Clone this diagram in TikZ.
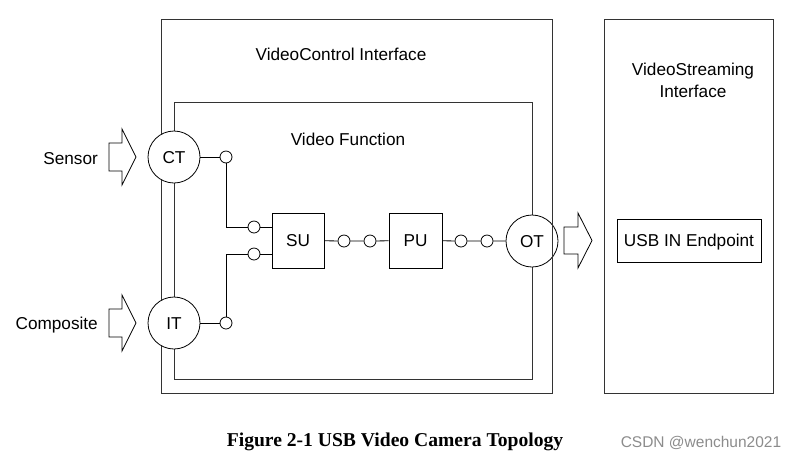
\documentclass[tikz,border=0pt]{standalone}
\usepackage{fontspec}
\setmainfont{Liberation Sans}
\newfontfamily\capfont{Liberation Serif}
\begin{document}
\begin{tikzpicture}[x=1pt,y=-1pt,
  every node/.style={font=\fontsize{17.2}{22}\selectfont, text height=12.3pt, text depth=0pt},
  box/.style={draw=black!80, line width=1pt},
  term/.style={circle, draw, fill=white, minimum size=52pt, inner sep=0pt, line width=0.8pt},
  pin/.style={circle, draw, fill=white, minimum size=12pt, inner sep=0pt, line width=0.8pt, text height=0pt, text depth=0pt},
  unit/.style={draw, fill=white, inner sep=0pt, line width=0.8pt},
  wire/.style={line width=0.8pt},
  blk/.style={draw, line width=0.8pt, fill=white, line join=miter}]
\useasboundingbox (0,0) rectangle (797,459);
\fill[white] (0,0) rectangle (797,459);

% interface boxes
\draw[box] (161,19) rectangle (552,393);
\draw[box] (174,102) rectangle (532,379);
\draw[box] (604,19) rectangle (773,393);

% labels
\node (vci) at (341,54) {VideoControl Interface};
\node (vf) at (348,139) {Video Function};
\node[align=center, text height=, text depth=] (vsi) at (693,80) {VideoStreaming\\Interface};

% terminals
\node[term] (ct) at (174,157) {CT};
\node[term] (it) at (174,323) {IT};
\node[term] (ot) at (532,241) {OT};
\draw[box] (552,19) -- (552,393);

% units
\node[unit, minimum width=52pt, minimum height=55pt] (su) at (298,240.5) {SU};
\node[unit, minimum width=53pt, minimum height=55pt] (pu) at (415.5,240.5) {PU};

% pins
\node[pin] (p1) at (226,157) {};
\node[pin] (p2) at (254,227) {};
\node[pin] (p3) at (254,254) {};
\node[pin] (p4) at (226,323) {};
\node[pin] (p5) at (344,241) {};
\node[pin] (p6) at (370,241) {};
\node[pin] (p7) at (461,241) {};
\node[pin] (p8) at (487,241) {};

% wires
\draw[wire] (ct) -- (p1);
\draw[wire] (p1) |- (p2);
\draw[wire] (p2) -- (su.west |- p2);
\draw[wire] (it) -- (p4);
\draw[wire] (p4) |- (p3);
\draw[wire] (p3) -- (su.west |- p3);
\draw[wire] (su) -- (p5) -- (p6) -- (pu) -- (p7) -- (p8) -- (ot);

% block arrows
\draw[blk] (109,143) -- (122,143) -- (122,129) -- (136,157) -- (122,185) -- (122,171) -- (109,171) -- cycle;
\draw[blk] (109,309) -- (122,309) -- (122,295) -- (136,323) -- (122,351) -- (122,337) -- (109,337) -- cycle;
\draw[blk] (564,227) -- (578,227) -- (578,213) -- (592,240.5) -- (578,268) -- (578,254) -- (564,254) -- cycle;

% streaming
\node[draw, line width=0.8pt, minimum width=144pt, minimum height=43pt, inner sep=0pt] (usb) at (689,240.5) {USB IN Endpoint};

% inputs
\node[anchor=east, inner sep=0pt] (sensor) at (98,158) {Sensor};
\node[anchor=east, inner sep=0pt] (comp) at (98,323) {Composite};

% caption
\node (cap) at (395,440) {\fontsize{19.6}{24}\selectfont\capfont\bfseries Figure 2-1 USB Video Camera Topology};
\node[text=black!45] (csdn) at (701,441) {\fontsize{15.5}{18}\selectfont CSDN @wenchun2021};
\end{tikzpicture}
\end{document}
